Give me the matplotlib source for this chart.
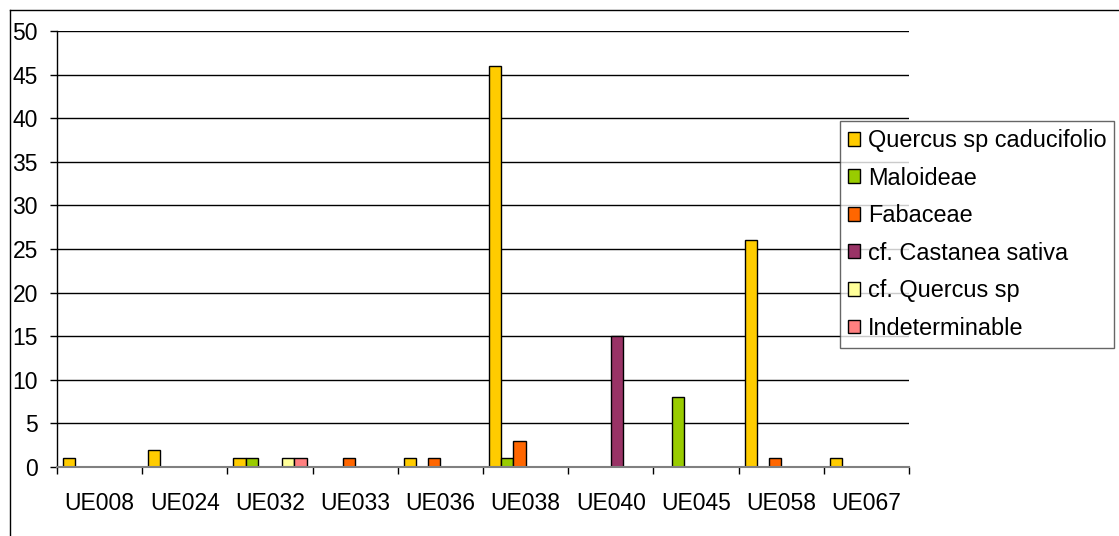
import matplotlib
matplotlib.use("Agg")
import matplotlib.pyplot as plt
import numpy as np
from matplotlib.lines import Line2D

categories = ["UE008", "UE024", "UE032", "UE033", "UE036", "UE038", "UE040", "UE045", "UE058", "UE067"]
series_names = ["Quercus sp caducifolio", "Maloideae", "Fabaceae",
                "cf. Castanea sativa", "cf. Quercus sp", "Indeterminable"]
quercus_cad = [1, 2, 1, 0, 1, 46, 0, 0, 26, 1]
maloideae = [0, 0, 1, 0, 0, 1, 0, 8, 0, 0]
fabaceae = [0, 0, 0, 1, 1, 3, 0, 0, 1, 0]
castanea = [0, 0, 0, 0, 0, 0, 15, 0, 0, 0]
cf_quercus = [0, 0, 1, 0, 0, 0, 0, 0, 0, 0]
indeterminable = [0, 0, 1, 0, 0, 0, 0, 0, 0, 0]
y_ticks = [0, 5, 10, 15, 20, 25, 30, 35, 40, 45, 50]

series = [quercus_cad, maloideae, fabaceae, castanea, cf_quercus, indeterminable]
colors = ["#FFCC00", "#99CC00", "#FF6600", "#993366", "#FFFF99", "#FF8080"]

plt.rcParams['font.family'] = ['Liberation Sans', 'DejaVu Sans']

W, H = 1119, 536
fig = plt.figure(figsize=(W / 100, H / 100), dpi=100)
x0, x1, ytop, ybot = 57, 909, 31, 467
ax = fig.add_axes([x0 / W, (H - ybot) / H, (x1 - x0) / W, (ybot - ytop) / H])

n = len(series)
bw = 1.0 / (n + 1)
xs = np.arange(len(categories))
handles = []
for j, (vals, col, name) in enumerate(zip(series, colors, series_names)):
    vals = np.array(vals, dtype=float)
    idx = np.nonzero(vals > 0)[0]
    ax.bar(xs[idx] + (j - (n - 1) / 2) * bw, vals[idx], width=bw, color=col,
           edgecolor="black", linewidth=1.0, zorder=3)
    handles.append(plt.Rectangle((0, 0), 1, 1, facecolor=col, edgecolor="black", linewidth=1.0))

ax.set_xlim(-0.5, len(categories) - 0.5)
ax.set_ylim(0, 50)
ax.set_yticks(y_ticks)
ax.yaxis.grid(True, color="black", linewidth=1.0, zorder=0)
ax.set_axisbelow(True)

ax.set_xticks(np.arange(len(categories) + 1) - 0.5)
ax.set_xticklabels([])
ax.set_xticks(xs, minor=True)
ax.set_xticklabels(categories, minor=True, fontsize=16.5)
ax.tick_params(axis="x", which="major", length=5, width=1, color="black", direction="out")
ax.tick_params(axis="x", which="minor", length=0, pad=18)
ax.tick_params(axis="y", length=5, width=1, direction="out", pad=8.7, labelsize=16.5)

for s in ["top", "right"]:
    ax.spines[s].set_visible(False)
ax.spines["left"].set_color("black")
ax.spines["left"].set_linewidth(1.0)
ax.spines["bottom"].set_color("#808080")
ax.spines["bottom"].set_linewidth(1.5)
ax.spines["bottom"].set_zorder(4)

leg = fig.legend(handles, series_names, loc="upper left",
                 bbox_to_anchor=(840 / W, (H - 121) / H), bbox_transform=fig.transFigure,
                 fontsize=16.9, frameon=True, fancybox=False, shadow=False,
                 handlelength=0.52, handleheight=0.52, handletextpad=0.32,
                 labelspacing=0.62, borderpad=0.34, borderaxespad=0)
leg.get_frame().set_edgecolor("#404040")
leg.get_frame().set_linewidth(1.0)

# outer chart frame
fig.add_artist(Line2D([10 / W, 1.0], [1 - 10 / H, 1 - 10 / H], transform=fig.transFigure,
                      color="black", linewidth=1.0))
fig.add_artist(Line2D([10 / W, 10 / W], [0, 1 - 10 / H], transform=fig.transFigure,
                      color="black", linewidth=1.0))

fig.savefig("out.png", dpi=100)
